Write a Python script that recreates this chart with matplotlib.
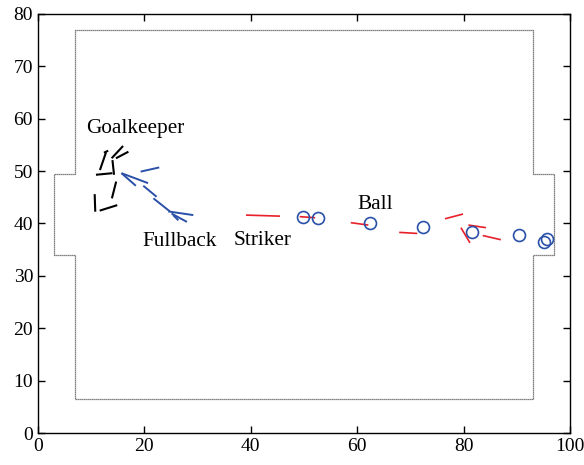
import matplotlib
matplotlib.use("Agg")
import matplotlib.pyplot as plt

plt.rcParams['font.family'] = ['Liberation Serif', 'DejaVu Serif']

# Field boundary
field_x = [7, 93, 93, 97, 97, 93, 93, 7, 7, 3, 3, 7, 7]
field_y = [6.5, 6.5, 34, 34, 49.5, 49.5, 77, 77, 49.5, 49.5, 34, 34, 6.5]

# Goalkeeper segments (black)
gk_x0 = [11.65, 13.85, 14.66, 10.9, 14.0, 14.7, 10.66, 11.6, 12.4]
gk_y0 = [50.2, 52.45, 52.45, 49.3, 52.1, 48.0, 45.6, 42.45, 53.5]
gk_x1 = [12.8, 16.0, 17.0, 14.0, 14.3, 13.9, 10.77, 14.9, 13.2]
gk_y1 = [53.6, 54.8, 53.7, 49.6, 49.3, 44.8, 42.25, 43.5, 53.9]

# Fullback segments (blue)
fb_x0 = [19.3, 15.7, 15.7, 19.8, 21.7, 24.5, 25.1, 25.4]
fb_y0 = [49.9, 49.6, 49.6, 47.2, 44.8, 42.3, 41.9, 41.6]
fb_x1 = [22.8, 20.7, 18.4, 22.3, 24.8, 29.2, 28.0, 26.4]
fb_y1 = [50.7, 47.7, 47.2, 45.1, 42.3, 41.6, 40.3, 40.6]

# Striker segments (red)
st_x0 = [39.1, 49.2, 58.8, 67.9, 76.5, 79.5, 80.9, 83.6]
st_y0 = [41.6, 41.3, 40.15, 38.3, 40.9, 39.2, 39.7, 37.7]
st_x1 = [45.5, 52.1, 62.1, 71.3, 79.9, 81.2, 84.2, 87.0]
st_y1 = [41.4, 41.1, 39.7, 38.1, 41.8, 36.3, 39.2, 36.9]

# Ball positions
ball_x = [49.8, 52.7, 62.5, 72.4, 81.5, 90.5, 95.1, 95.7]
ball_y = [41.3, 41.0, 40.15, 39.3, 38.4, 37.75, 36.4, 37.0]

# Labels
label_text = ["Goalkeeper", "Fullback", "Striker", "Ball"]
label_x = [9.0, 19.7, 36.7, 60.0]
label_y = [58.2, 36.5, 36.7, 43.7]

red = '#e8202a'
blue = '#2a50a8'

fig = plt.figure(figsize=(5.84, 4.65), dpi=100)
ax = fig.add_axes([0.065, 0.0688, 0.911, 0.9012])

ax.plot(field_x, field_y, color='0.35', lw=0.9, linestyle=(0, (1, 0.6)))

for a, b, c, d in zip(gk_x0, gk_x1, gk_y0, gk_y1):
    ax.plot([a, b], [c, d], color='black', lw=1.5, solid_capstyle='butt')
for a, b, c, d in zip(fb_x0, fb_x1, fb_y0, fb_y1):
    ax.plot([a, b], [c, d], color=blue, lw=1.4, solid_capstyle='butt')
for a, b, c, d in zip(st_x0, st_x1, st_y0, st_y1):
    ax.plot([a, b], [c, d], color=red, lw=1.2, solid_capstyle='butt')

ax.plot(ball_x, ball_y, linestyle='none', marker='o', markersize=8.6,
        markerfacecolor='none', markeredgecolor=blue, markeredgewidth=1.2)

for t, x, y in zip(label_text, label_x, label_y):
    ax.text(x, y, t, fontsize=15.3, ha='left', va='center')

ax.set_xlim(0, 100)
ax.set_ylim(0, 80)
ax.set_xticks(range(0, 101, 20))
ax.set_yticks(range(0, 81, 10))
ax.tick_params(direction='in', top=True, right=True, labelsize=14, length=5, width=1)
for s in ax.spines.values():
    s.set_linewidth(1)

fig.savefig('out.png', dpi=100)
